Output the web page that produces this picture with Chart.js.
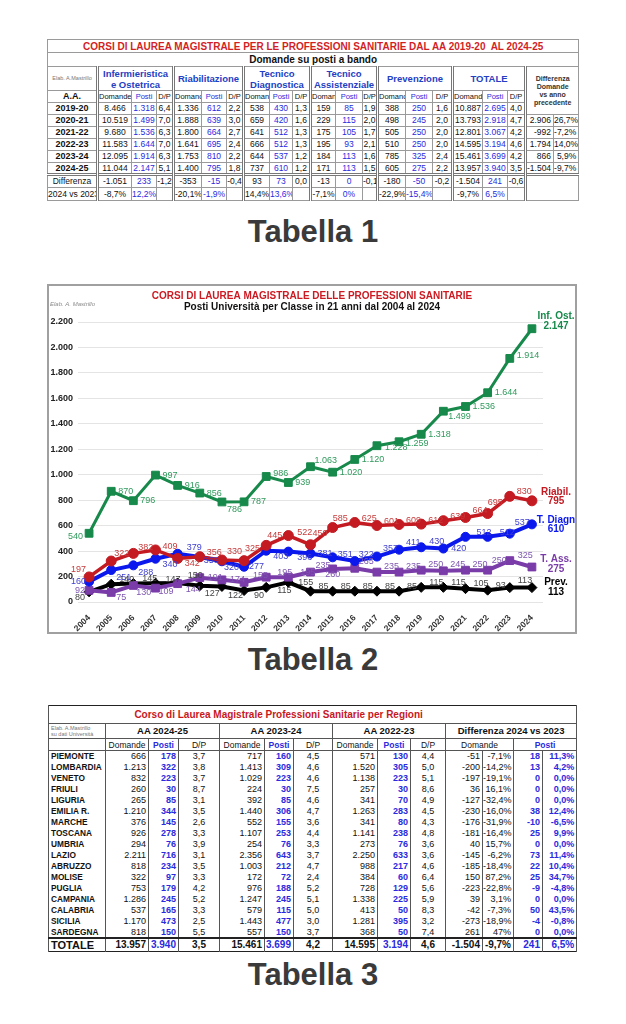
<!DOCTYPE html>
<html lang="it"><head><meta charset="utf-8">
<script src="https://cdn.jsdelivr.net/npm/chart.js@4.4.1/dist/chart.umd.min.js"></script>
<style>
html,body{margin:0;padding:0;background:#fff}
body{width:626px;height:1024px;position:relative;overflow:hidden;font-family:"Liberation Sans",Arial,sans-serif;color:#111}
.cap{position:absolute;left:0;width:626px;text-align:center;font-weight:bold;font-size:31px;line-height:32px;color:#3a3a3a}
table{position:absolute;border-collapse:collapse;table-layout:fixed}
td{padding:0;white-space:nowrap;overflow:hidden}
#t1{left:47px;top:39px;width:532px;font-size:8.5px;border:1px solid #555}
#t1 td{border:1px solid #9a9a9a;text-align:center;line-height:9px}
#t1 .ttl{color:#d21f26;font-weight:bold;font-size:10px}
#t1 .sub{font-weight:bold;font-size:10px}
#t1 .gh{color:#2340c4;font-weight:bold;font-size:9.5px;line-height:11px}
#t1 .elab{color:#777;font-size:5.5px}
#t1 .dh{font-weight:bold;font-size:7px;line-height:8px;color:#333}
#t1 .sh{font-size:7.5px}
#t1 .aa,#t1 .yr{font-weight:bold;font-size:9px}
#t1 .bl{color:#2a2ae0}
#t1 .gs{border-left:3px double #777}
#t1 .r{text-align:right;padding-right:2px}
#t1 .sep td{border-top:3px double #777}
#t3{left:48px;top:705px;width:528px;font-size:9px;border:1.5px solid #222}
#t3 td{border-left:1px solid #555;border-right:1px solid #555;line-height:10px}
#t3 .ttl{color:#c8171e;font-weight:bold;font-size:10px;text-align:center;padding-right:68px;border-bottom:1px solid #555}
#t3 .gh{font-weight:bold;font-size:9.5px;text-align:center;border-bottom:1px solid #555}
#t3 .elab{color:#777;font-size:5.5px;line-height:6px;padding-left:2px;border-bottom:1px solid #555}
#t3 .sh{font-size:8.5px;text-align:center;border-bottom:1px solid #555}
#t3 .rg{font-weight:bold;text-align:left;padding-left:2px;font-size:8.3px}
#t3 .n{text-align:right;padding-right:2px}
#t3 .c{text-align:center}
#t3 .bl{color:#2a2ae0;font-weight:bold}
#t3 .tot td{border-top:2px solid #222;font-weight:bold;font-size:10px}
#t3 .tot td.rg{font-size:11px}
#chartBox{position:absolute;left:47px;top:284px;width:530px;height:350px;border:2px solid #a0a0a0;box-sizing:border-box}
#chartBox canvas{display:block}
</style></head>
<body>
<table id="t1"></table>
<div class="cap" style="top:216px">Tabella 1</div>
<div id="chartBox"><canvas id="c" width="526" height="346" style="width:526px;height:346px"></canvas></div>
<div class="cap" style="top:644px">Tabella 2</div>
<table id="t3"></table>
<div class="cap" style="top:959px">Tabella 3</div>
<script>
// ---------------- Chart data (Tabella 2) ----------------
const YEARS=['2004','2005','2006','2007','2008','2009','2010','2011','2012','2013','2014','2015','2016','2017','2018','2019','2020','2021','2022','2023','2024'];
const INF_OST=[540,870,796,997,916,856,786,787,986,939,1063,1020,1120,1228,1259,1318,1499,1536,1644,1914,2147];
const RIABIL=[197,322,382,409,342,356,330,325,445,522,450,585,625,601,609,612,639,664,695,830,795];
const T_DIAGN=[160,251,288,340,379,353,320,277,403,396,381,351,322,357,411,430,420,512,512,537,610];
const T_ASS=[92,75,130,109,144,191,174,155,195,195,235,260,265,235,235,250,245,250,250,325,275];
const PREV=[80,140,145,147,150,127,122,90,115,155,85,85,85,85,85,115,115,105,93,113,113];
const SERIES_NAMES=['Inf. Ost.','Riabil.','T. Diagn','T. Ass.','Prev.'];
const Y_TICKS=[0,200,400,600,800,1000,1200,1400,1600,1800,2000,2200];
const CHART_TITLE='CORSI DI LAUREA MAGISTRALE DELLE PROFESSIONI SANITARIE';
const CHART_SUBTITLE='Posti Università per Classe in 21 anni dal 2004 al 2024';

// ---------------- Tabella 1 data ----------------
const T1_TITLE='CORSI DI LAUREA MAGISTRALE PER LE PROFESSIONI SANITARIE DAL AA 2019-20&nbsp; AL 2024-25';
const T1_SUB='Domande su posti a bando';
const T1_GROUPS=['Infermieristica<br>e Ostetrica','Riabilitazione','Tecnico<br>Diagnostica','Tecnico<br>Assistenziale','Prevenzione','TOTALE'];
const T1_SUBHEAD=['Domande','Posti','D/P','Domand','Posti','D/P','Doman','Posti','D/P','Domande','Posti','D/P','Domand','Posti','D/P','Domande','Posti','D/P'];
const T1_YEARS=['2019-20','2020-21','2021-22','2022-23','2023-24','2024-25'];
const T1_ROWS=[
['8.466','1.318','6,4','1.336','612','2,2','538','430','1,3','159','85','1,9','388','250','1,6','10.887','2.695','4,0'],
['10.519','1.499','7,0','1.888','639','3,0','659','420','1,6','229','115','2,0','498','245','2,0','13.793','2.918','4,7'],
['9.680','1.536','6,3','1.800','664','2,7','641','512','1,3','175','105','1,7','505','250','2,0','12.801','3.067','4,2'],
['11.583','1.644','7,0','1.641','695','2,4','666','512','1,3','195','93','2,1','510','250','2,0','14.595','3.194','4,6'],
['12.095','1.914','6,3','1.753','810','2,2','644','537','1,2','184','113','1,6','785','325','2,4','15.461','3.699','4,2'],
['11.044','2.147','5,1','1.400','795','1,8','737','610','1,2','171','113','1,5','605','275','2,2','13.957','3.940','3,5']];
const T1_DIFF=[['2.906','26,7%'],['-992','-7,2%'],['1.794','14,0%'],['866','5,9%'],['-1.504','-9,7%']];
const T1_D1=['-1.051','233','-1,2','-353','-15','-0,4','93','73','0,0','-13','0','-0,1','-180','-50','-0,2','-1.504','241','-0,6'];
const T1_D2=['-8,7%','12,2%','','-20,1%','-1,9%','','14,4%','13,6%','','-7,1%','0%','','-22,9%','-15,4%','','-9,7%','6,5%',''];

// ---------------- Tabella 3 data ----------------
const T3_TITLE='Corso di Laurea Magistrale Professioni Sanitarie per Regioni';
const T3_GROUPS=['AA 2024-25','AA 2023-24','AA 2022-23'];
const REGIONI=['PIEMONTE','LOMBARDIA','VENETO','FRIULI','LIGURIA','EMILIA R.','MARCHE','TOSCANA','UMBRIA','LAZIO','ABRUZZO','MOLISE','PUGLIA','CAMPANIA','CALABRIA','SICILIA','SARDEGNA'];
const T3_ROWS=[
['666','178','3,7','717','160','4,5','571','130','4,4','-51','-7,1%','18','11,3%'],
['1.213','322','3,8','1.413','309','4,6','1.520','305','5,0','-200','-14,2%','13','4,2%'],
['832','223','3,7','1.029','223','4,6','1.138','223','5,1','-197','-19,1%','0','0,0%'],
['260','30','8,7','224','30','7,5','257','30','8,6','36','16,1%','0','0,0%'],
['265','85','3,1','392','85','4,6','341','70','4,9','-127','-32,4%','0','0,0%'],
['1.210','344','3,5','1.440','306','4,7','1.263','283','4,5','-230','-16,0%','38','12,4%'],
['376','145','2,6','552','155','3,6','341','80','4,3','-176','-31,9%','-10','-6,5%'],
['926','278','3,3','1.107','253','4,4','1.141','238','4,8','-181','-16,4%','25','9,9%'],
['294','76','3,9','254','76','3,3','273','76','3,6','40','15,7%','0','0,0%'],
['2.211','716','3,1','2.356','643','3,7','2.250','633','3,6','-145','-6,2%','73','11,4%'],
['818','234','3,5','1.003','212','4,7','988','217','4,6','-185','-18,4%','22','10,4%'],
['322','97','3,3','172','72','2,4','384','60','6,4','150','87,2%','25','34,7%'],
['753','179','4,2','976','188','5,2','728','129','5,6','-223','-22,8%','-9','-4,8%'],
['1.286','245','5,2','1.247','245','5,1','1.338','225','5,9','39','3,1%','0','0,0%'],
['537','165','3,3','579','115','5,0','413','50','8,3','-42','-7,3%','50','43,5%'],
['1.170','473','2,5','1.443','477','3,0','1.281','395','3,2','-273','-18,9%','-4','-0,8%'],
['818','150','5,5','557','150','3,7','368','50','7,4','261','47%','0','0,0%']];
const T3_TOTALE=['13.957','3.940','3,5','15.461','3.699','4,2','14.595','3.194','4,6','-1.504','-9,7%','241','6,5%'];

// ---------------- build Tabella 1 ----------------
(function(){
  const W=[50,34,25,17,28,25,17,26,23,18,25,27,15,28,27,20,30,25,18,28,25];
  let h='<colgroup>'+W.map(w=>`<col style="width:${w}px">`).join('')+'</colgroup>';
  h+=`<tr style="height:13px"><td colspan="21" class="ttl">${T1_TITLE}</td></tr>`;
  h+=`<tr style="height:14px"><td colspan="21" class="sub">${T1_SUB}</td></tr>`;
  h+=`<tr style="height:24px"><td class="elab">Elab. A.Mastrillo</td>`+T1_GROUPS.map(g=>`<td colspan="3" class="gh gs">${g}</td>`).join('')+
     `<td colspan="2" rowspan="3" class="dh gs">Differenza<br>Domande<br>vs anno<br>precedente</td></tr>`;
  h+=`<tr style="height:12px"><td class="aa">A.A.</td>`+T1_SUBHEAD.map((s,i)=>`<td class="sh${i%3==1?' bl':''}${i%3==0?' gs':''}">${s}</td>`).join('')+'</tr>';
  T1_YEARS.forEach((y,r)=>{
    h+=`<tr style="height:12px"><td class="yr">${y}</td>`+T1_ROWS[r].map((v,i)=>`<td class="${i%3==1?'bl':''}${i%3==0?' gs':''}">${v}</td>`).join('');
    if(r>0) h+=`<td class="gs r">${T1_DIFF[r-1][0]}</td><td class="r">${T1_DIFF[r-1][1]}</td>`;
    h+='</tr>';
  });
  h+=`<tr style="height:13px" class="sep"><td>Differenza</td>`+T1_D1.map((v,i)=>`<td class="${i%3==1?'bl':''}${i%3==0?' gs':''}">${v}</td>`).join('')+`<td colspan="2" rowspan="2" class="gs"></td></tr>`;
  h+=`<tr style="height:13px"><td>2024 vs 2023</td>`+T1_D2.map((v,i)=>`<td class="${i%3==1?'bl':''}${i%3==0?' gs':''}">${v}</td>`).join('')+'</tr>';
  document.getElementById('t1').innerHTML=h;
})();

// ---------------- build Tabella 3 ----------------
(function(){
  const W=[57,43,30,41,45,29,39,45,33,35,37,31,29,34];
  const cls=['n','n bl','c','n','n bl','c','n','n bl','c','n','n','n bl','n bl'];
  let h='<colgroup>'+W.map(w=>`<col style="width:${w}px">`).join('')+'</colgroup>';
  h+=`<tr style="height:18px"><td colspan="14" class="ttl">${T3_TITLE}</td></tr>`;
  h+=`<tr style="height:15px"><td class="elab">Elab. A.Mastrillo<br>su dati Università</td>`+T3_GROUPS.map(g=>`<td colspan="3" class="gh">${g}</td>`).join('')+`<td colspan="4" class="gh">Differenza 2024 vs 2023</td></tr>`;
  h+=`<tr style="height:12px"><td class="sh"></td>`+['Domande','Posti','D/P','Domande','Posti','D/P','Domande','Posti','D/P'].map((s,i)=>`<td class="sh${i%3==1?' bl':''}" style="font-weight:${i%3==1?'bold':'normal'}">${s}</td>`).join('')+
     `<td colspan="2" class="sh">Domande</td><td colspan="2" class="sh bl">Posti</td></tr>`;
  REGIONI.forEach((r,k)=>{
    h+=`<tr style="height:11px"><td class="rg">${r}</td>`+T3_ROWS[k].map((v,i)=>`<td class="${cls[i]}">${v}</td>`).join('')+'</tr>';
  });
  h+=`<tr class="tot" style="height:14px"><td class="rg">TOTALE</td>`+T3_TOTALE.map((v,i)=>`<td class="${cls[i]}">${v}</td>`).join('')+'</tr>';
  document.getElementById('t3').innerHTML=h;
})();

// ---------------- Chart ----------------
const COLORS=['#17894a','#c41a22','#0a18ee','#7a3ca8','#000000'];
const LABEL_COLORS=['#2f9a5c','#c73a3a','#3d3dcf','#7d55b0','#444444'];
const fmt=v=>String(v).replace(/\B(?=(\d{3})+(?!\d))/g,'.');
// label placement: [dx, dy, align]
const LABEL_POS=[
  {def:[7,0,'left'], o:{0:[-6,3,'right'],6:[5,8,'left'],10:[4,-6,'left'],13:[8,2],14:[7,2],16:[5,5],19:[7,-3],8:[7,-3]}},
  {def:[7,-4,'left'], o:{0:[-3,-7,'right'],1:[3,-8],2:[5,-6],3:[7,-3],4:[7,5],6:[5,-8],7:[1,-12],8:[1,-10],9:[9,-3],10:[2,-11],11:[0,-9],16:[7,-4],17:[7,-7],18:[0,-11],19:[7,-5]}},
  {def:[7,-6,'left'], o:{0:[-3,0,'right'],1:[5,7],2:[5,7],3:[7,6],4:[9,-6],5:[4,3],6:[2,6],7:[5,0],8:[7,6],9:[9,6],10:[7,0],11:[5,-3],12:[4,-7],13:[6,-8],14:[7,-7],15:[8,-6],16:[8,0],17:[11,-4],18:[12,-4],19:[5,-11]}},
  {def:[7,-6,'left'], o:{0:[-4,0,'right'],1:[5,5],2:[3,7],3:[3,3],4:[8,6],5:[8,0],6:[8,0],7:[9,-7],8:[11,-5],9:[12,-5],10:[5,-7],11:[0,6,'center'],12:[4,-7],18:[4,-10],19:[8,-5]}},
  {def:[8,-5,'left'], o:{0:[-4,6,'right'],2:[9,-5],3:[10,-4],4:[10,-7],5:[5,8],6:[6,9],7:[10,5],8:[11,3],9:[10,0],21:[9,-6],19:[8,-7]}}
];
const END_POS=[[-12,-2],[-9,0],[-4,5],[-8,2],[-5,5]];

const valueLabels={
  id:'valueLabels',
  afterDatasetsDraw(chart){
    const ctx=chart.ctx;
    ctx.save();
    ctx.textBaseline='middle';
    chart.data.datasets.forEach((ds,i)=>{
      const meta=chart.getDatasetMeta(i);
      const cfg=LABEL_POS[i];
      ctx.font='9px "Liberation Sans", Arial, sans-serif';
      ctx.fillStyle=LABEL_COLORS[i];
      meta.data.forEach((pt,j)=>{
        if(j===meta.data.length-1) return;
        const p=cfg.o[j]||cfg.def;
        ctx.textAlign=p[2]||'left';
        ctx.fillText(fmt(ds.data[j]),pt.x+p[0],pt.y+p[1]);
      });
      const last=meta.data[meta.data.length-1];
      const x=chart.chartArea.right+13;
      ctx.font='bold 10px "Liberation Sans", Arial, sans-serif';
      ctx.fillStyle=COLORS[i];
      ctx.textAlign='center';
      ctx.fillText(SERIES_NAMES[i],x,last.y+END_POS[i][0]);
      ctx.fillText(fmt(ds.data[ds.data.length-1]),x,last.y+END_POS[i][1]);
    });
    ctx.restore();
  },
  afterDraw(chart){
    const ctx=chart.ctx;
    ctx.save();
    ctx.textAlign='center';ctx.textBaseline='middle';
    ctx.font='bold 10px "Liberation Sans", Arial, sans-serif';
    ctx.fillStyle='#cc1a22';
    ctx.fillText(CHART_TITLE,263,10);
    ctx.fillStyle='#111';
    ctx.fillText(CHART_SUBTITLE,263,21);
    ctx.textAlign='left';
    ctx.font='italic 6px "Liberation Sans", Arial, sans-serif';
    ctx.fillStyle='#8a8a8a';
    ctx.fillText('Elab. A. Mastrillo',1,18);
    ctx.restore();
  }
};

const mk=(label,data,i,style,r,bw)=>({
  label,data,borderColor:COLORS[i],backgroundColor:COLORS[i],pointBackgroundColor:COLORS[i],pointBorderColor:COLORS[i],
  borderWidth:bw,pointStyle:style,pointRadius:r,pointBorderWidth:1,tension:0,fill:false
});

new Chart(document.getElementById('c'),{
  type:'line',
  data:{labels:YEARS,datasets:[
    mk(SERIES_NAMES[0],INF_OST,0,'rect',5.5,3),
    mk(SERIES_NAMES[1],RIABIL,1,'circle',5,3.5),
    mk(SERIES_NAMES[2],T_DIAGN,2,'circle',4.5,4),
    mk(SERIES_NAMES[3],T_ASS,3,'rect',5.5,4),
    mk(SERIES_NAMES[4],PREV,4,'rectRot',5,4)
  ]},
  options:{
    responsive:false,animation:false,devicePixelRatio:1,
    layout:{padding:{left:0,right:32,top:36,bottom:0}},
    plugins:{legend:{display:false},tooltip:{enabled:false},title:{display:false}},
    scales:{
      x:{offset:true,grid:{display:false},border:{display:false},
         ticks:{minRotation:45,maxRotation:45,autoSkip:false,padding:3,color:'#333',font:{family:'"Liberation Sans", Arial',size:8.5,weight:'bold'}},
         afterFit:s=>{s.height=30;}},
      y:{min:0,max:2200,border:{display:false},
         grid:{color:'#e4e4e4',drawTicks:false},
         afterBuildTicks:s=>{s.ticks=Y_TICKS.map(v=>({value:v}));},
         ticks:{padding:5,color:'#222',font:{family:'"Liberation Sans", Arial',size:9,weight:'bold'},callback:v=>fmt(v)},
         afterFit:s=>{s.width=29;}}
    }
  },
  plugins:[valueLabels]
});
</script>
</body></html>
